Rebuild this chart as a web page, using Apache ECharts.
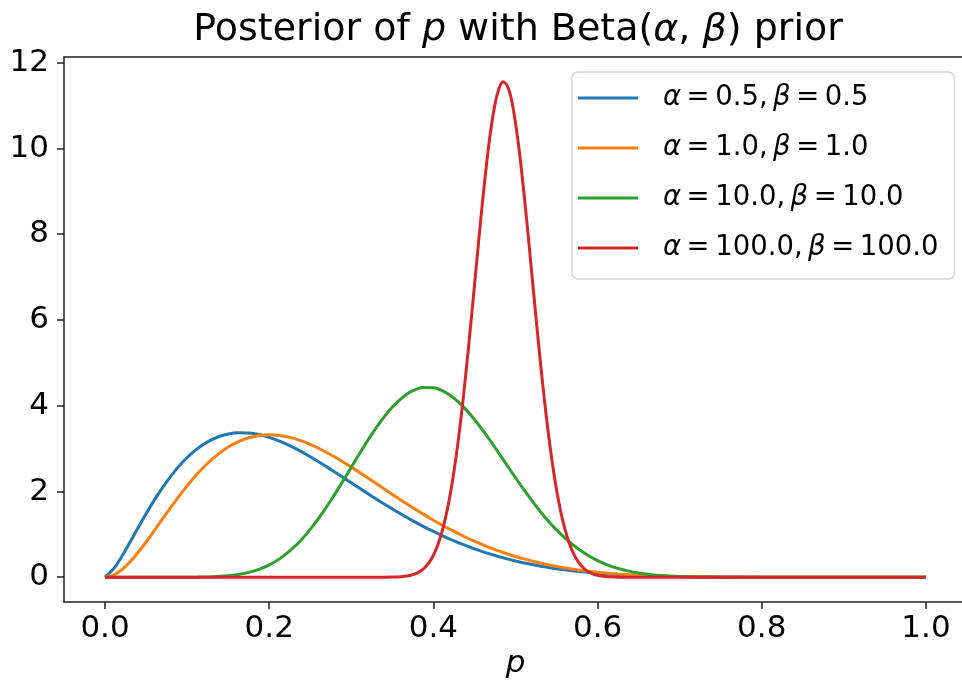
<!DOCTYPE html>
<html>
<head>
<meta charset="utf-8">
<title>Posterior of p</title>
<script src="https://cdn.jsdelivr.net/npm/echarts@6/dist/echarts.min.js"></script>
<style>
html, body { margin: 0; background: #fff; }
#main { width: 962px; height: 680px; }
</style>
</head>
<body>
<div id="main"></div>
<script>
// values of p where the three wide curves were read
var pGrid = [0, 0.0125, 0.025, 0.0375, 0.05, 0.0625, 0.075, 0.0875, 0.1, 0.1125, 0.125, 0.1375,
    0.15, 0.1625, 0.175, 0.1875, 0.2, 0.2125, 0.225, 0.2375, 0.25, 0.2625, 0.275, 0.2875,
    0.3, 0.3125, 0.325, 0.3375, 0.35, 0.3625, 0.375, 0.3875, 0.4, 0.4125, 0.425, 0.4375,
    0.45, 0.4625, 0.475, 0.4875, 0.5, 0.5125, 0.525, 0.5375, 0.55, 0.5625, 0.575, 0.5875,
    0.6, 0.6125, 0.625, 0.6375, 0.65, 0.6625, 0.675, 0.6875, 0.7, 0.725, 0.75, 0.8, 0.9, 1.0];
var densBlue = [0, 0.247, 0.636, 1.060, 1.480, 1.873, 2.226, 2.533, 2.791, 2.999, 3.157, 3.270,
    3.340, 3.370, 3.364, 3.327, 3.263, 3.176, 3.069, 2.946, 2.811, 2.666, 2.515, 2.359,
    2.202, 2.045, 1.890, 1.739, 1.592, 1.450, 1.315, 1.187, 1.067, 0.954, 0.849, 0.752,
    0.663, 0.581, 0.507, 0.440, 0.380, 0.326, 0.278, 0.236, 0.199, 0.166, 0.138, 0.114,
    0.094, 0.076, 0.061, 0.049, 0.039, 0.030, 0.024, 0.018, 0.014, 0.007, 0.004, 0.001, 0, 0];
var densOrange = [0, 0.070, 0.253, 0.513, 0.821, 1.154, 1.492, 1.822, 2.131, 2.411, 2.658, 2.866,
    3.035, 3.164, 3.253, 3.305, 3.322, 3.306, 3.261, 3.190, 3.097, 2.985, 2.857, 2.717,
    2.568, 2.413, 2.253, 2.092, 1.932, 1.774, 1.621, 1.472, 1.330, 1.195, 1.068, 0.950,
    0.839, 0.738, 0.645, 0.560, 0.483, 0.415, 0.354, 0.299, 0.252, 0.210, 0.174, 0.143,
    0.117, 0.094, 0.076, 0.060, 0.047, 0.037, 0.028, 0.021, 0.016, 0.009, 0.004, 0.001, 0, 0];
var densGreen = [0, 0, 0, 0, 0, 0, 0, 0.0003, 0.001, 0.003, 0.007, 0.017,
    0.034, 0.064, 0.112, 0.184, 0.287, 0.428, 0.612, 0.841, 1.116, 1.434, 1.789, 2.171,
    2.566, 2.960, 3.336, 3.677, 3.968, 4.196, 4.351, 4.427, 4.421, 4.336, 4.178, 3.955,
    3.680, 3.365, 3.025, 2.672, 2.320, 1.983, 1.659, 1.366, 1.104, 0.876, 0.681, 0.520,
    0.388, 0.284, 0.203, 0.142, 0.097, 0.064, 0.042, 0.026, 0.016, 0.005, 0.002, 0, 0, 0];

// the narrow red peak is read on a finer grid
var pRed = [0, 0.1, 0.2, 0.3, 0.33, 0.34, 0.35, 0.36,
    0.37, 0.375, 0.38, 0.385, 0.39, 0.395, 0.40, 0.405, 0.41, 0.415, 0.42, 0.425,
    0.43, 0.435, 0.44, 0.445, 0.45, 0.455, 0.46, 0.465, 0.47, 0.475, 0.48, 0.485,
    0.49, 0.495, 0.50, 0.505, 0.51, 0.515, 0.52, 0.525, 0.53, 0.535, 0.54, 0.545,
    0.55, 0.555, 0.56, 0.565, 0.57, 0.575, 0.58, 0.585, 0.59, 0.595, 0.60, 0.605, 0.61,
    0.62, 0.63, 0.64, 0.7, 0.8, 0.9, 1.0];
var densRed = [0, 0, 0, 0, 0.0003, 0.001, 0.004, 0.012,
    0.036, 0.060, 0.096, 0.152, 0.233, 0.350, 0.512, 0.734, 1.027, 1.406, 1.881, 2.461,
    3.150, 3.945, 4.834, 5.796, 6.802, 7.817, 8.791, 9.683, 10.442, 11.028, 11.406, 11.553,
    11.460, 11.147, 10.597, 9.877, 9.014, 8.060, 7.056, 6.050, 5.078, 4.175, 3.359, 2.647,
    2.041, 1.540, 1.137, 0.822, 0.581, 0.401, 0.271, 0.179, 0.116, 0.073, 0.045, 0.027, 0.016,
    0.005, 0.0015, 0.0004, 0, 0, 0, 0];

var THIN = '\u2009';
var seriesNames = [
    'α' + THIN + '=' + THIN + '0.5,' + THIN + 'β' + THIN + '=' + THIN + '0.5',
    'α' + THIN + '=' + THIN + '1.0,' + THIN + 'β' + THIN + '=' + THIN + '1.0',
    'α' + THIN + '=' + THIN + '10.0,' + THIN + 'β' + THIN + '=' + THIN + '10.0',
    'α' + THIN + '=' + THIN + '100.0,' + THIN + 'β' + THIN + '=' + THIN + '100.0'
];
var seriesColors = ['#1f77b4', '#ff7f0e', '#2ca02c', '#d62728'];
var xTicks = [0, 0.2, 0.4, 0.6, 0.8, 1.0];
var yTicks = [0, 2, 4, 6, 8, 10, 12];

var FONT = 'DejaVu Sans';
var INK = '#222';

function pairs(xs, ys) {
    return xs.map(function (x, i) { return [x, ys[i]]; });
}

var curves = [
    pairs(pGrid, densBlue),
    pairs(pGrid, densOrange),
    pairs(pGrid, densGreen),
    pairs(pRed, densRed)
];

var spine = { show: true, onZero: false, lineStyle: { color: INK, width: 1.5 } };

var myChart = echarts.init(document.getElementById('main'));

var option = {
    animation: false,
    backgroundColor: '#fff',
    title: {
        text: '{n|Posterior of }{i|p}{n| with Beta(}{i|α}{n|, }{i|β}{n|) prior}',
        left: 518,
        top: 11,
        textAlign: 'center',
        padding: 0,
        textStyle: {
            fontSize: 38,
            fontFamily: FONT,
            fontWeight: 'normal',
            color: '#000',
            rich: {
                n: { fontSize: 38, fontFamily: FONT, color: '#000' },
                i: { fontSize: 38, fontFamily: FONT, fontStyle: 'italic', color: '#000' }
            }
        }
    },
    legend: {
        orient: 'vertical',
        left: 572,
        top: 72,
        padding: [11, 16, 16, 6],
        itemWidth: 60,
        itemHeight: 3,
        itemGap: 20,
        icon: 'rect',
        selectedMode: false,
        backgroundColor: 'rgba(255,255,255,0.8)',
        borderColor: '#d4d4d4',
        borderWidth: 1.5,
        borderRadius: 6,
        data: seriesNames,
        formatter: function (name) {
            return name.replace(/([αβ])/g, '{i|$1}');
        },
        textStyle: {
            fontSize: 27.5,
            fontFamily: FONT,
            color: '#000',
            lineHeight: 30,
            padding: [0, 0, 0, 20],
            rich: {
                i: { fontSize: 27.5, fontFamily: FONT, fontStyle: 'italic', color: '#000', lineHeight: 30 }
            }
        }
    },
    grid: {
        left: 64,
        top: 57,
        width: 903,
        height: 545,
        outerBoundsMode: 'none',
        containLabel: false
    },
    xAxis: [{
        type: 'value',
        position: 'bottom',
        min: -0.05,
        max: 1.05,
        axisLine: spine,
        splitLine: { show: false },
        axisTick: {
            show: true,
            customValues: xTicks,
            length: 7,
            lineStyle: { color: INK, width: 1.5 }
        },
        axisLabel: {
            customValues: xTicks,
            formatter: function (v) { return v.toFixed(1); },
            margin: 11,
            fontSize: 31,
            fontFamily: FONT,
            color: '#000'
        },
        name: 'p',
        nameLocation: 'middle',
        nameGap: 45,
        nameTextStyle: { fontSize: 31, fontFamily: FONT, fontStyle: 'italic', color: '#000' }
    }, {
        // top spine only
        type: 'value',
        position: 'top',
        min: -0.05,
        max: 1.05,
        axisLine: spine,
        axisTick: { show: false },
        axisLabel: { show: false },
        splitLine: { show: false }
    }],
    yAxis: [{
        type: 'value',
        position: 'left',
        min: -0.578,
        max: 12.133,
        axisLine: spine,
        splitLine: { show: false },
        axisTick: {
            show: true,
            customValues: yTicks,
            length: 7,
            lineStyle: { color: INK, width: 1.5 }
        },
        axisLabel: {
            customValues: yTicks,
            margin: 15,
            fontSize: 31,
            fontFamily: FONT,
            color: '#000'
        }
    }],
    series: curves.map(function (data, i) {
        return {
            name: seriesNames[i],
            type: 'line',
            xAxisIndex: 0,
            yAxisIndex: 0,
            data: data,
            smooth: 0.3,
            symbol: 'none',
            showSymbol: false,
            lineStyle: { width: 3, color: seriesColors[i] },
            itemStyle: { color: seriesColors[i] }
        };
    })
};

myChart.setOption(option);
</script>
</body>
</html>
